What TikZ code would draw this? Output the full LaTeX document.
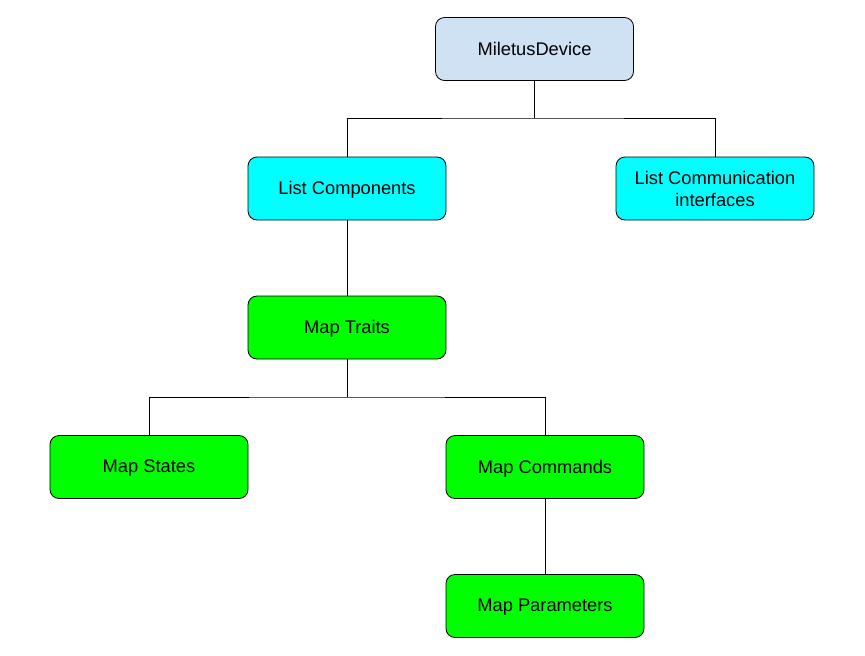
\documentclass[tikz,border=0pt]{standalone}
\usepackage{fontspec}
\setmainfont{Liberation Sans}
\usepackage{xcolor}

\definecolor{devblue}{HTML}{CFE2F3}
\definecolor{listcyan}{HTML}{00FFFF}
\definecolor{mapgreen}{HTML}{00FF00}

\tikzset{
    box/.style={draw=black, line width=0.8pt, rounded corners=9pt,
        minimum width=198pt, minimum height=63pt, align=center,
        inner sep=0pt, font=\fontsize{18.3}{22}\selectfont},
    onebox/.style={box, text depth=1pt},
    link/.style={line width=0.8pt}
}

\begin{document}
\begin{tikzpicture}[x=1pt, y=-1pt]
    \useasboundingbox (0,0) rectangle (865,656);
    \node[onebox, fill=devblue] (dev) at (534.5,49) {MiletusDevice};
    \node[onebox, fill=listcyan] (comp) at (347,188.5) {List Components};
    \node[box, fill=listcyan] (comm) at (715,188.5) {List Communication\\interfaces};
    \node[onebox, fill=mapgreen] (traits) at (347,327.5) {Map Traits};
    \node[onebox, fill=mapgreen] (states) at (149,467) {Map States};
    \node[onebox, fill=mapgreen] (cmds) at (545,467) {Map Commands};
    \node[onebox, fill=mapgreen] (params) at (545,606) {Map Parameters};
    \coordinate (top) at (534.5,118);
    \coordinate (mid) at (347,397);
    \draw[link] (dev.south) -- (top);
    \draw[link] (comp.north) |- (top) -| (comm.north);
    \draw[link] (comp.south) -- (traits.north);
    \draw[link] (traits.south) -- (mid);
    \draw[link] (states.north) |- (mid) -| (cmds.north);
    \draw[link] (cmds.south) -- (params.north);
\end{tikzpicture}
\end{document}
